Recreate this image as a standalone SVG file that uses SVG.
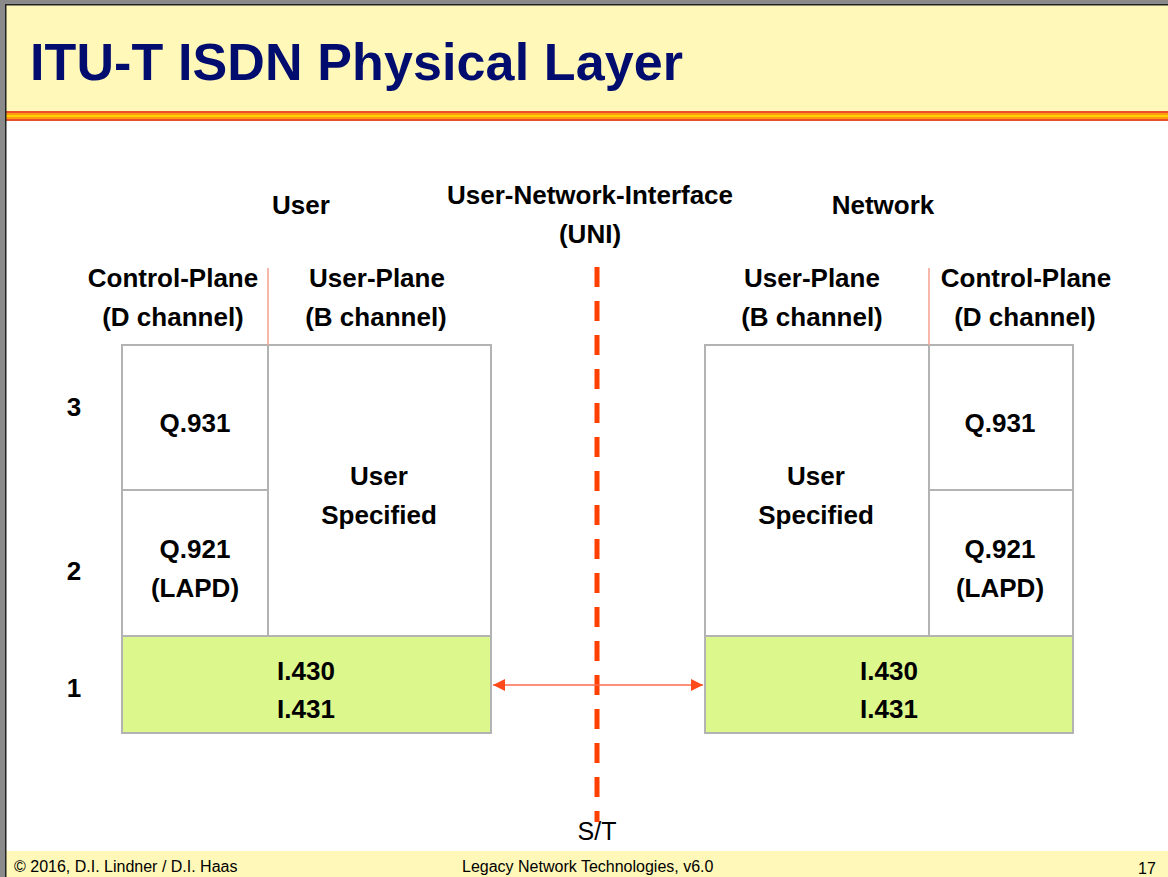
<svg xmlns="http://www.w3.org/2000/svg" width="1168" height="877" viewBox="0 0 1168 877">
<style>
  .b { font-family: "Liberation Sans", Arial, sans-serif; font-weight: bold; font-size: 26px; fill: #000; text-anchor: middle; }
  .n { font-family: "Liberation Sans", Arial, sans-serif; font-size: 16px; fill: #000; }
  .cell { fill: #fff; stroke: #b3b3b3; stroke-width: 2; }
  .phy { fill: #dcf78b; stroke: #b3b3b3; stroke-width: 2; }
  .sep { stroke: #f4a090; stroke-width: 1.5; }
</style>
<defs>
  <marker id="ah" viewBox="0 0 10 10" refX="10" refY="5" markerWidth="12" markerHeight="12" markerUnits="userSpaceOnUse" orient="auto-start-reverse">
    <path d="M0,0 L10,5 L0,10 z" fill="#ff4a1c"/>
  </marker>
</defs>
<rect x="0" y="0" width="1168" height="877" fill="#fff"/>
<!-- header -->
<g id="header">
  <rect x="0" y="0" width="1168" height="111" fill="#fff8b8"/>
  <rect x="0" y="111" width="1168" height="2" fill="#e8502a"/>
  <rect x="0" y="113" width="1168" height="2" fill="#ff9a10"/>
  <rect x="0" y="115" width="1168" height="2" fill="#ffd400"/>
  <rect x="0" y="117" width="1168" height="2" fill="#ff9a10"/>
  <rect x="0" y="119" width="1168" height="2" fill="#e8502a"/>
  <text x="30" y="80" font-family="Liberation Sans, Arial, sans-serif" font-weight="bold" font-size="52" fill="#000c6e" textLength="653">ITU-T ISDN Physical Layer</text>
</g>
<!-- footer -->
<g id="footer">
  <rect x="0" y="851" width="1168" height="26" fill="#fff8b8"/>
  <text class="n" x="14" y="872">© 2016, D.I. Lindner / D.I. Haas</text>
  <text class="n" x="462" y="872">Legacy Network Technologies, v6.0</text>
  <text class="n" x="1138" y="874" font-size="18">17</text>
</g>
<!-- frame borders -->
<rect x="0" y="0" width="1168" height="4" fill="#8a8a8a"/>
<rect x="0" y="4" width="1168" height="1.5" fill="#222"/>
<rect x="0" y="0" width="5" height="877" fill="#8a8a8a"/>
<rect x="5" y="4" width="1.5" height="873" fill="#222"/>

<!-- headings -->
<g id="labels">
  <text class="b" x="301" y="214">User</text>
  <text class="b" x="590" y="204">User-Network-Interface</text>
  <text class="b" x="590" y="243">(UNI)</text>
  <text class="b" x="883" y="214">Network</text>
  <text class="b" x="173" y="287">Control-Plane</text>
  <text class="b" x="173" y="326">(D channel)</text>
  <text class="b" x="377" y="287">User-Plane</text>
  <text class="b" x="376" y="326">(B channel)</text>
  <text class="b" x="812" y="287">User-Plane</text>
  <text class="b" x="812" y="326">(B channel)</text>
  <text class="b" x="1026" y="287">Control-Plane</text>
  <text class="b" x="1025" y="326">(D channel)</text>
  <text class="b" x="74" y="416">3</text>
  <text class="b" x="74" y="580">2</text>
  <text class="b" x="74" y="697">1</text>
  <text x="597" y="840" font-family="Liberation Sans, Arial, sans-serif" font-size="25" text-anchor="middle" fill="#000">S/T</text>
</g>

<!-- user side stack -->
<g id="user-q931">
  <rect class="cell" x="122" y="345" width="146" height="145"/>
  <text class="b" x="195" y="432">Q.931</text>
</g>
<g id="user-q921">
  <rect class="cell" x="122" y="490" width="146" height="146"/>
  <text class="b" x="195" y="558">Q.921</text>
  <text class="b" x="195" y="597">(LAPD)</text>
</g>
<g id="user-specified">
  <rect class="cell" x="268" y="345" width="223" height="291"/>
  <text class="b" x="379" y="485">User</text>
  <text class="b" x="379" y="524">Specified</text>
</g>
<g id="user-phy">
  <rect class="phy" x="122" y="636" width="369" height="97"/>
  <text class="b" x="306" y="680">I.430</text>
  <text class="b" x="306" y="718">I.431</text>
</g>

<!-- network side stack -->
<g id="net-specified">
  <rect class="cell" x="705" y="345" width="224" height="291"/>
  <text class="b" x="816" y="485">User</text>
  <text class="b" x="816" y="524">Specified</text>
</g>
<g id="net-q931">
  <rect class="cell" x="929" y="345" width="144" height="145"/>
  <text class="b" x="1000" y="432">Q.931</text>
</g>
<g id="net-q921">
  <rect class="cell" x="929" y="490" width="144" height="146"/>
  <text class="b" x="1000" y="558">Q.921</text>
  <text class="b" x="1000" y="597">(LAPD)</text>
</g>
<g id="net-phy">
  <rect class="phy" x="705" y="636" width="368" height="97"/>
  <text class="b" x="889" y="680">I.430</text>
  <text class="b" x="889" y="718">I.431</text>
</g>

<!-- connectors -->
<g id="connectors">
  <line class="sep" x1="268" y1="268" x2="268" y2="345"/>
  <line class="sep" x1="929" y1="268" x2="929" y2="345"/>
  <line x1="597" y1="267" x2="597" y2="822" stroke="#ff4000" stroke-width="5" stroke-dasharray="20 14"/>
  <line x1="493" y1="685" x2="703" y2="685" stroke="#ff6a4a" stroke-width="1.5" marker-start="url(#ah)" marker-end="url(#ah)"/>
</g>
</svg>
